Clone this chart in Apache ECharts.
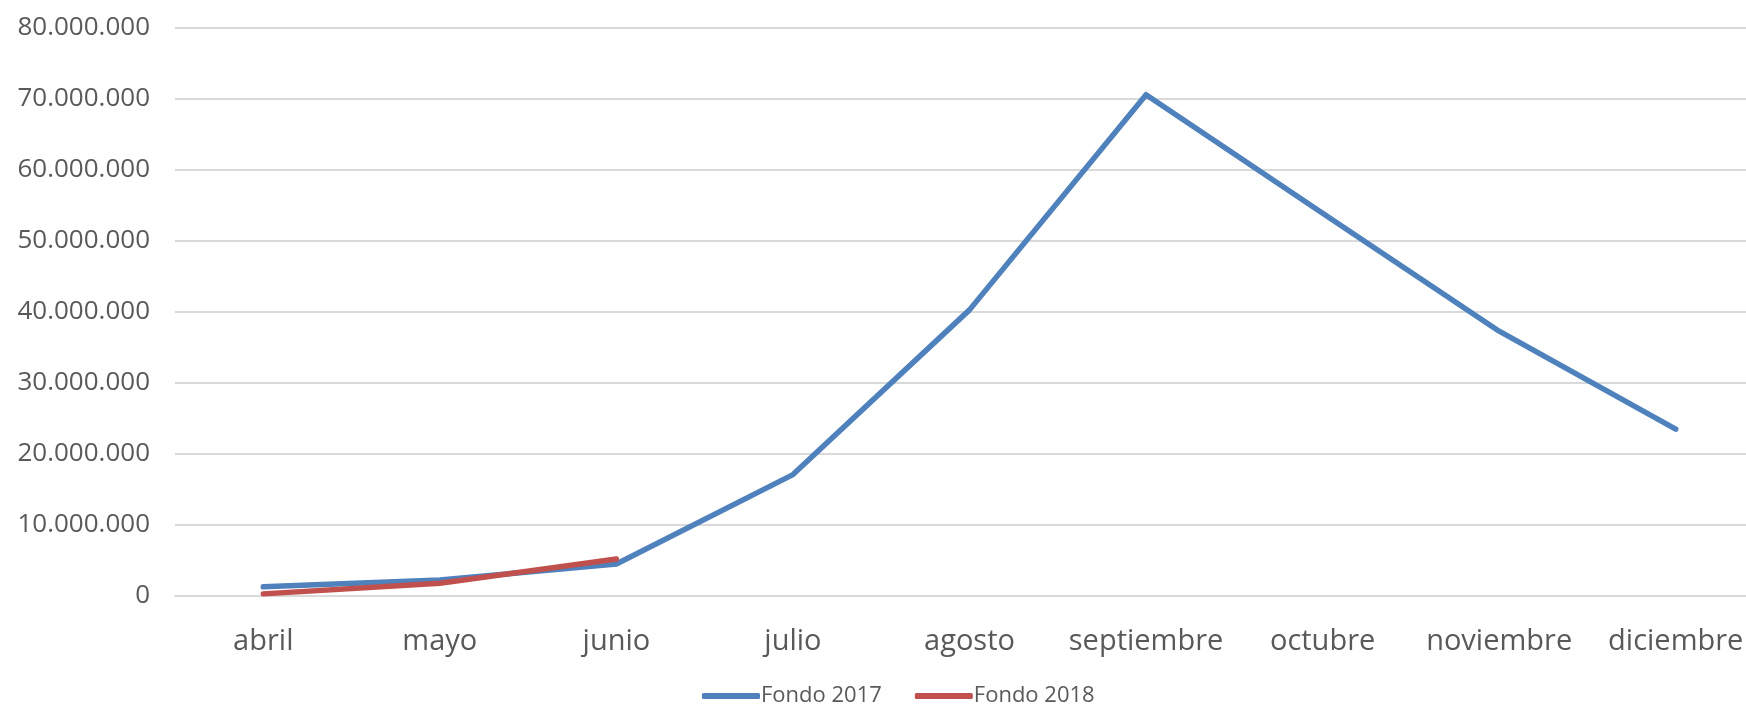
<!DOCTYPE html>
<html>
<head>
<meta charset="utf-8">
<title>Fondo 2017 / 2018</title>
<script src="https://cdn.jsdelivr.net/npm/echarts@6/dist/echarts.min.js"></script>
<style>
  html, body { margin: 0; padding: 0; background: #fff; overflow: hidden; }
  /* un poco mas ancho que la ventana: el grafico original esta recortado a la derecha */
  #chart { width: 1770px; height: 709px; }
</style>
</head>
<body>
<div id="chart"></div>
<script>
// meses (eje x)
const meses = ['abril', 'mayo', 'junio', 'julio', 'agosto', 'septiembre', 'octubre', 'noviembre', 'diciembre'];
// valores
const fondo2017 = [1300000, 2250000, 4500000, 17100000, 40300000, 70600000, 53900000, 37300000, 23500000];
const fondo2018 = [300000, 1800000, 5200000];
const yTicks = [0, 10000000, 20000000, 30000000, 40000000, 50000000, 60000000, 70000000, 80000000];

const textColor = '#595959';
const fontFam = '"Open Sans", "Liberation Sans", sans-serif';

// 80000000 -> 80.000.000
function puntos(v) {
  return String(v).replace(/\B(?=(\d{3})+(?!\d))/g, '.');
}

const chart = echarts.init(document.getElementById('chart'));

const option = {
  animation: false,
  backgroundColor: '#fff',
  textStyle: { fontFamily: fontFam, color: textColor },
  grid: {
    left: 175,
    top: 28,
    height: 568,
    right: 6
  },
  legend: {
    bottom: -3,
    left: 697,
    itemWidth: 58,
    itemHeight: 6,
    itemGap: 33,
    icon: 'roundRect',
    textStyle: { fontFamily: fontFam, fontSize: 22, color: textColor, padding: [0, 0, 0, -4] },
    data: ['Fondo 2017', 'Fondo 2018']
  },
  xAxis: {
    type: 'category',
    data: meses,
    boundaryGap: true,
    axisLine: { show: true, lineStyle: { color: '#d9d9d9', width: 2 } },
    axisTick: { show: false },
    axisLabel: {
      fontFamily: fontFam,
      fontSize: 29,
      color: textColor,
      margin: 31,
      interval: 0
    }
  },
  yAxis: {
    type: 'value',
    min: yTicks[0],
    max: yTicks[yTicks.length - 1],
    interval: yTicks[1] - yTicks[0],
    axisLine: { show: false },
    axisTick: { show: false },
    splitLine: { lineStyle: { color: '#d9d9d9', width: 2 } },
    axisLabel: {
      fontFamily: fontFam,
      fontSize: 26,
      color: textColor,
      margin: 25,
      formatter: puntos
    }
  },
  series: [
    {
      name: 'Fondo 2017',
      type: 'line',
      data: fondo2017,
      symbol: 'none',
      color: '#4f81bd',
      lineStyle: { width: 5.5, cap: 'round', join: 'round' }
    },
    {
      name: 'Fondo 2018',
      type: 'line',
      data: fondo2018,
      symbol: 'none',
      color: '#c0504d',
      lineStyle: { width: 5.5, cap: 'round', join: 'round' }
    }
  ]
};

chart.setOption(option);
</script>
</body>
</html>
